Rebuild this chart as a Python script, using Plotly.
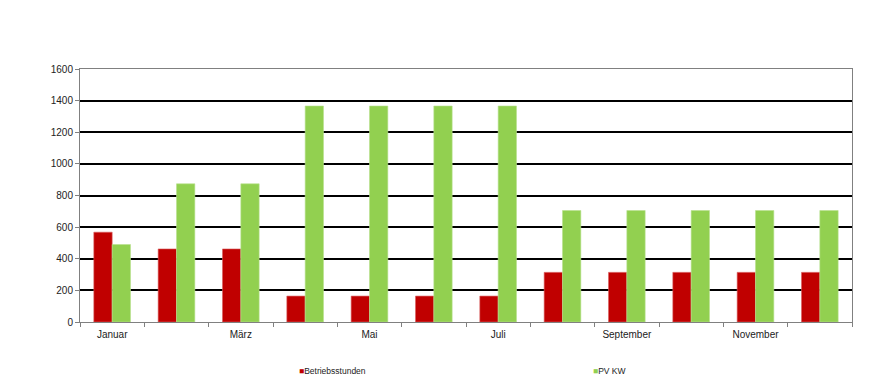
import plotly.graph_objects as go

months = ["Januar", "Februar", "März", "April", "Mai", "Juni", "Juli",
          "August", "September", "Oktober", "November", "Dezember"]
betriebsstunden = [568, 462, 462, 164, 164, 164, 164, 314, 314, 314, 314, 314]
pv_kw = [490, 874, 874, 1366, 1366, 1366, 1366, 705, 705, 705, 705, 705]
y_ticks = [0, 200, 400, 600, 800, 1000, 1200, 1400, 1600]
series_names = ["Betriebsstunden", "PV KW"]
series_colors = ["#C00000", "#92D050"]

x_idx = list(range(len(months)))
label_idx = x_idx[::2]
label_txt = months[::2]

fig = go.Figure()
fig.add_trace(go.Bar(x=x_idx, y=betriebsstunden, name=series_names[0],
                     marker=dict(color=series_colors[0], line=dict(color="#D9605F", width=0.6))))
fig.add_trace(go.Bar(x=x_idx, y=pv_kw, name=series_names[1],
                     marker=dict(color=series_colors[1], line=dict(color="#B8E08E", width=0.6))))

# legend drawn as text entries (small square + name), like the original
legend_x = [0.2824, 0.663]
for name, color, lx in zip(series_names, series_colors, legend_x):
    fig.add_annotation(
        xref="paper", yref="paper", x=lx, y=-0.194, xanchor="left", yanchor="middle",
        text=f"<span style='color:{color}'>■</span>{name}", showarrow=False,
        font=dict(size=8.5, color="#222222"), borderpad=0,
    )

fig.update_layout(
    width=866, height=381,
    margin=dict(l=72, r=22, t=61, b=67, autoexpand=False),
    paper_bgcolor="white", plot_bgcolor="white",
    barmode="group", bargap=0.43, bargroupgap=0,
    font=dict(family="Liberation Sans, Arial, sans-serif", size=10, color="#222222"),
    showlegend=False,
)
fig.update_xaxes(
    range=[-0.5, 11.5],
    tickmode="array", tickvals=label_idx, ticktext=label_txt, ticks="",
    ticklabelstandoff=3,
    showline=True, linecolor="#808080", linewidth=1, mirror=True,
    showgrid=False, zeroline=False,
    minor=dict(tickmode="linear", tick0=-0.5, dtick=1, ticks="outside",
               ticklen=4, tickcolor="#808080", showgrid=False),
    tickfont=dict(size=10),
)
fig.update_yaxes(
    range=[0, 1600], tickmode="array", tickvals=y_ticks,
    ticks="outside", ticklen=4, tickcolor="#808080",
    showline=True, linecolor="#808080", linewidth=1, mirror=True,
    showgrid=True, gridcolor="#000000", gridwidth=1.5, zeroline=False,
    tickfont=dict(size=10),
)

fig.write_html("out.html")
